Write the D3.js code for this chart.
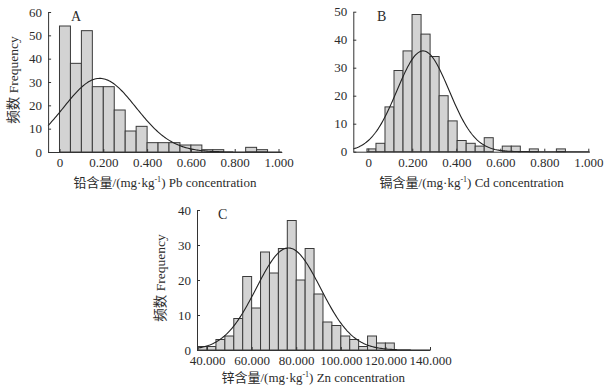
<!DOCTYPE html>
<html><head><meta charset="utf-8">
<script src="https://cdn.jsdelivr.net/npm/d3@7"></script>
<style>
html,body{margin:0;padding:0;background:#fff;}
svg text{font-family:"Liberation Serif","Times New Roman","Noto Sans CJK SC",serif;fill:#2b2b2b;}
</style></head>
<body><svg id="c" width="612" height="391"></svg>
<script>
// ---- Data ----
// Panel A: Pb
const pbCounts = [54,38,52,28,28,18,9,11,4,4,4,3,3,1,1,0,0,2,1];
const pbBinStart = 0, pbBinWidth = 0.05;
const pbMean = 0.184, pbSd = 0.165;
const pbTicks = [0,0.2,0.4,0.6,0.8,1.0];
const pbTickLabels = ["0","0.200","0.400","0.600","0.800","1.000"];
const pbYTicks = [0,10,20,30,40,50,60];
// Panel B: Cd
const cdCounts = [1,3,16,29,36,49,42,34,20,11,4,3,2,5,0,2,2,0,1,0,0,1];
const cdBinStart = -0.006, cdBinWidth = 0.041;
const cdMean = 0.249, cdSd = 0.1186;
const cdTicks = [0,0.2,0.4,0.6,0.8,1.0];
const cdTickLabels = ["0","0.200","0.400","0.600","0.800","1.000"];
const cdYTicks = [0,10,20,30,40,50];
// Panel C: Zn
const znCounts = [1,1,3,4,9,21,12,28,22,29,37,20,29,16,8,7,4,3,1,4,2,2];
const znBinStart = 36, znBinWidth = 4;
const znMean = 76.5, znSd = 14.4;
const znTicks = [40,60,80,100,120,140];
const znTickLabels = ["40.000","60.000","80.000","100.000","120.000","140.000"];
const znYTicks = [0,10,20,30,40];

const svg = d3.select("#c");

function panel(o){
  const g = svg.append("g");
  const x = d3.scaleLinear().domain(o.xDomain).range(o.xRange);
  const y = d3.scaleLinear().domain(o.yDomain).range(o.yRange);
  const bins = o.counts.map((c,i)=>({x0:o.binStart+i*o.binWidth, x1:o.binStart+(i+1)*o.binWidth, c}));
  g.selectAll("rect.bar").data(bins.filter(b=>b.c>0)).join("rect")
    .attr("class","bar")
    .attr("x",d=>x(d.x0)).attr("width",d=>x(d.x1)-x(d.x0))
    .attr("y",d=>y(d.c)).attr("height",d=>y(0)-y(d.c))
    .attr("fill","#d3d3d3").attr("stroke","#3a3a3a").attr("stroke-width",1);
  // normal curve
  const n = d3.sum(o.counts);
  const pts = d3.range(0,201).map(i=>{
    const v = o.xDomain[0] + (o.xDomain[1]-o.xDomain[0])*i/200;
    const z = (v-o.mean)/o.sd;
    return [v, n*o.binWidth*Math.exp(-0.5*z*z)/(o.sd*Math.sqrt(2*Math.PI))];
  });
  g.append("path").datum(pts)
    .attr("d", d3.line().x(d=>x(d[0])).y(d=>y(d[1])))
    .attr("fill","none").attr("stroke","#222").attr("stroke-width",1.1);
  // axes
  const xa = g.append("g").attr("transform",`translate(0,${o.yRange[0]})`)
    .call(d3.axisBottom(x).tickValues(o.xTicks).tickFormat((d,i)=>o.xTickLabels[i])
      .tickSizeInner(-3).tickSizeOuter(0).tickPadding(6));
  const ya = g.append("g").attr("transform",`translate(${o.xRange[0]},0)`)
    .call(d3.axisLeft(y).tickValues(o.yTicks).tickSizeInner(-3).tickSizeOuter(0).tickPadding(6));
  [xa,ya].forEach(a=>{
    a.selectAll("path,line").attr("stroke","#333").attr("stroke-width",1);
    a.selectAll("text").attr("font-size","13px").attr("font-family",null).attr("fill","#2b2b2b");
  });
  // titles
  const t = g.append("text").attr("x",o.xTitlePos[0]).attr("y",o.xTitlePos[1])
    .attr("text-anchor","middle").attr("font-size","13px");
  t.append("tspan").text(o.xTitle[0]);
  t.append("tspan").attr("dy","-5").attr("font-size","8px").text("-1");
  t.append("tspan").attr("dy","5").text(o.xTitle[1]);
  if(o.yTitlePos){
    g.append("text").attr("transform",`translate(${o.yTitlePos[0]},${o.yTitlePos[1]}) rotate(-90)`)
      .attr("text-anchor","middle").attr("dominant-baseline","central")
      .attr("font-size","13.5px").text("频数 Frequency");
  }
  g.append("text").attr("x",o.letterPos[0]).attr("y",o.letterPos[1])
    .attr("text-anchor","middle").attr("dominant-baseline","central")
    .attr("font-size","14px").text(o.letter);
}

panel({counts:pbCounts, binStart:pbBinStart, binWidth:pbBinWidth, mean:pbMean, sd:pbSd,
  xDomain:[-0.052,1.015], xRange:[48.1,281.8], yDomain:[0,60], yRange:[152,12],
  xTicks:pbTicks, xTickLabels:pbTickLabels, yTicks:pbYTicks,
  xTitle:["铅含量/(mg·kg",") Pb concentration"], xTitlePos:[165,187],
  yTitlePos:[13,80], letter:"A", letterPos:[76,16]});

panel({counts:cdCounts, binStart:cdBinStart, binWidth:cdBinWidth, mean:cdMean, sd:cdSd,
  xDomain:[-0.068,1.005], xRange:[353.3,589.4], yDomain:[0,50], yRange:[151.7,11.7],
  xTicks:cdTicks, xTickLabels:cdTickLabels, yTicks:cdYTicks,
  xTitle:["镉含量/(mg·kg",") Cd concentration"], xTitlePos:[471.7,187],
  yTitlePos:null, letter:"B", letterPos:[381.7,16]});

panel({counts:znCounts, binStart:znBinStart, binWidth:znBinWidth, mean:znMean, sd:znSd,
  xDomain:[35.5,140], xRange:[197,430], yDomain:[0,40], yRange:[350,210],
  xTicks:znTicks, xTickLabels:znTickLabels, yTicks:znYTicks,
  xTitle:["锌含量/(mg·kg",") Zn concentration"], xTitlePos:[313.3,382],
  yTitlePos:[160,278], letter:"C", letterPos:[222.7,214]});
</script></body></html>
